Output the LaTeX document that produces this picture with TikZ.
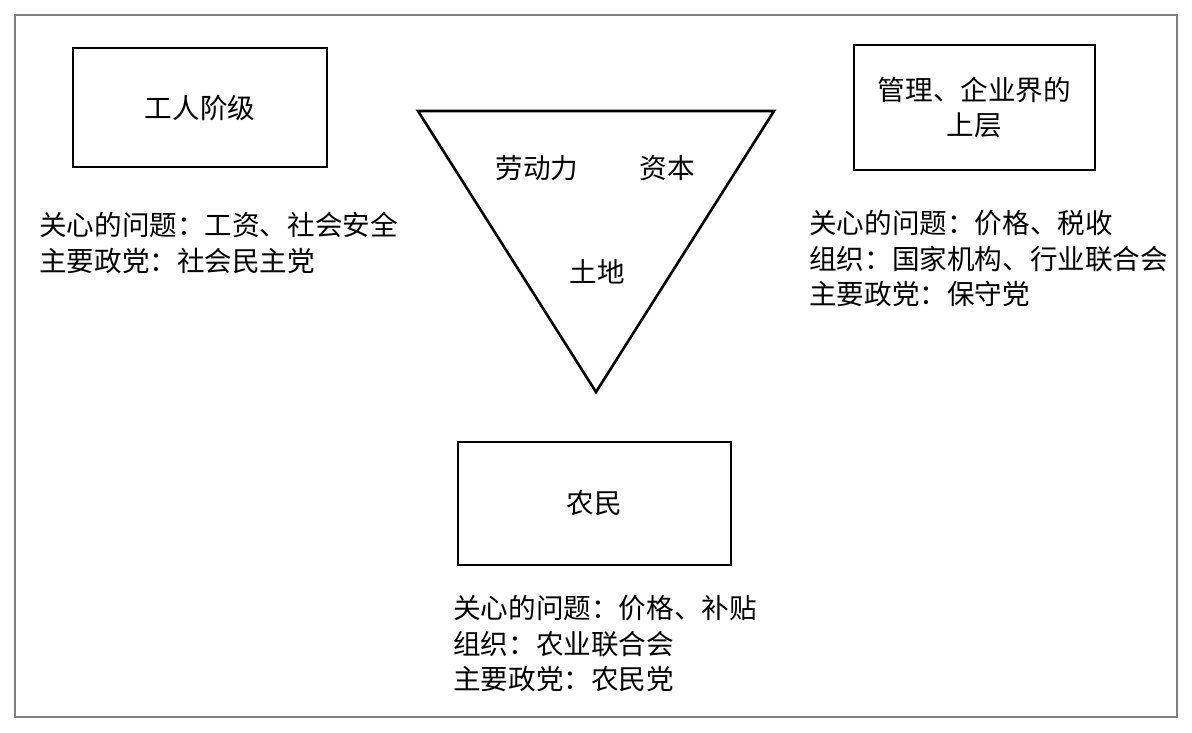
\documentclass[tikz,border=0pt]{standalone}
\usepackage{fontspec}
\setmainfont{Noto Sans CJK SC}
\usepackage{tikz}
\usetikzlibrary{positioning}

\tikzset{
	classbox/.style={draw, line width=2.6pt, minimum width=254pt, minimum height=119pt, align=center},
	notes/.style={anchor=north west, inner sep=0pt, align=left},
	factor/.style={inner sep=0pt}
}

\begin{document}
\begin{tikzpicture}[x=1pt, y=-1pt, font=\fontsize{27.6}{35.5}\selectfont]

	%Frame
	\useasboundingbox (0,0) rectangle (1192,732);
	\draw[gray, line width=2pt] (15,15) rectangle (1177,717);

	%Classes
	\node[classbox] (Work) at (200,107.5) {工人阶级};
	\node[classbox, minimum width=241pt, minimum height=125pt] (Mgmt) at (974.5,107.5) {管理、企业界的\\上层};
	\node[classbox, minimum width=273pt, minimum height=123pt] (Farm) at (594.5,503.5) {农民};

	%Interests
	\node[notes] (WorkNotes) at (39,212) {关心的问题：工资、社会安全\\主要政党：社会民主党};
	\node[notes] (MgmtNotes) at (809,210) {关心的问题：价格、税收\\组织：国家机构、行业联合会\\主要政党：保守党};
	\node[notes] (FarmNotes) at (453,595) {关心的问题：价格、补贴\\组织：农业联合会\\主要政党：农民党};

	%Triangle
	\coordinate (TL) at (418,111);
	\coordinate (TR) at (774,111);
	\coordinate (Tip) at (596,392);
	\draw[line width=2.6pt, line join=miter] (TL) -- (TR) -- (Tip) -- cycle;

	\node[factor] (Labour) at (537,168) {劳动力};
	\node[factor] (Capital) at (667,168) {资本};
	\node[factor] (Land) at (597,272) {土地};

\end{tikzpicture}
\end{document}
